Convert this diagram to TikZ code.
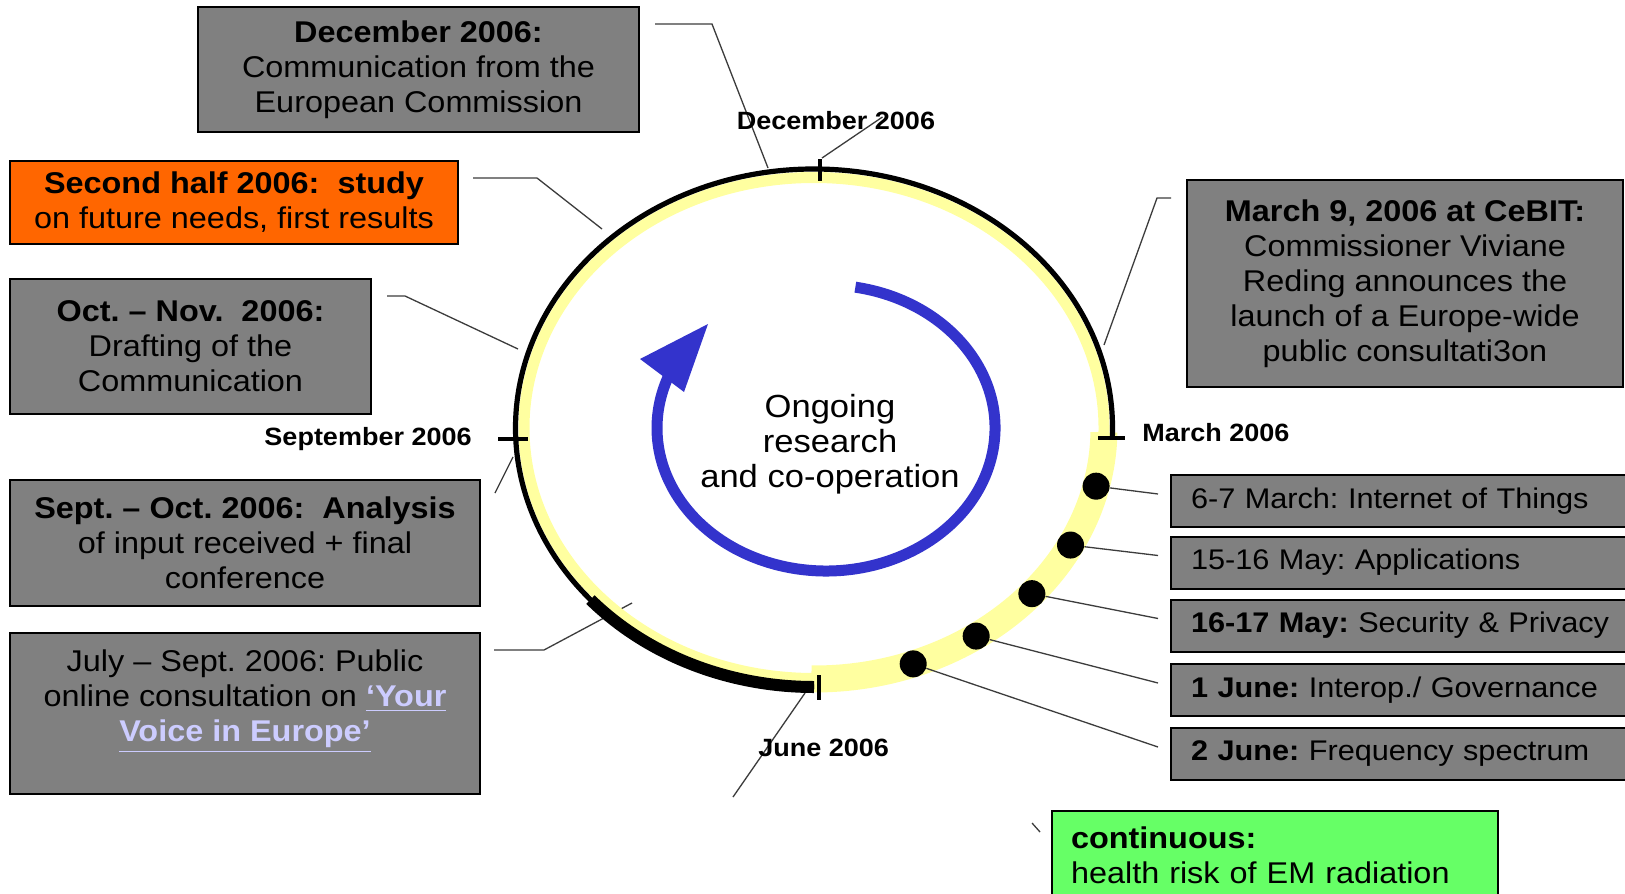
\documentclass[tikz,border=0pt]{standalone}
\usepackage{fontspec}
\setmainfont{Liberation Sans}[FakeStretch=1.08]
\usetikzlibrary{positioning}
\definecolor{boxgray}{RGB}{128,128,128}
\definecolor{sunorange}{RGB}{255,102,0}
\definecolor{lightgreen}{RGB}{102,255,102}
\definecolor{ringyellow}{RGB}{255,255,160}
\definecolor{cycleblue}{RGB}{51,51,204}
\definecolor{linklilac}{RGB}{204,204,255}
\definecolor{leadergray}{RGB}{60,60,60}
\frenchspacing

\begin{document}
\begin{tikzpicture}[x=0.5pt, y=-0.5pt, box/.style={rectangle, draw=black, line width=1pt, fill=boxgray, align=center, inner sep=0pt, font=\fontsize{15}{17.5}\selectfont}, event/.style={rectangle, draw=black, line width=1pt, fill=boxgray, anchor=west, minimum height=26pt, text width=245pt, inner xsep=10pt, inner ysep=0pt, align=left, font=\fontsize{14.2}{17}\selectfont}, month/.style={font=\fontsize{12.5}{15}\selectfont\bfseries, inner sep=0pt}, leader/.style={draw=leadergray, line width=0.65pt}, dot/.style={circle, fill=black, minimum size=13.5pt, inner sep=0pt}, tick/.style={line width=2pt}]
\useasboundingbox (0,0) rectangle (1625,893);
\clip (0,0) rectangle (1625,893);
\fill [white] (0,0) rectangle (1625,893);
\node (DEC) [box, minimum width=220.5pt, minimum height=62.5pt] at (418.5,69.5) {\textbf{December 2006:}\\Communication from the\\European Commission};
\node (HALF) [box, fill=sunorange, minimum width=224pt, minimum height=41.5pt] at (234,202.5) {\textbf{Second half 2006:\ \ study}\\on future needs, first results};
\node (DRAFT) [box, minimum width=180.5pt, minimum height=67.5pt] at (190.5,346.5) {\textbf{Oct.~--~Nov.\ \ 2006:}\\Drafting of the\\Communication};
\node (ANALYSIS) [box, minimum width=235pt, minimum height=63pt] at (245,543) {\textbf{Sept.~--~Oct. 2006:\ \ Analysis}\\of input received + final\\conference};
\node (ONLINE) [box, minimum width=235pt, minimum height=80.5pt] at (245,713.5) {July -- Sept. 2006: Public\\online consultation on \textcolor{linklilac}{\textbf{\underline{`Your}}}\\\textcolor{linklilac}{\textbf{\underline{Voice in Europe'}}}\\\mbox{}};
\node (CEBIT) [box, minimum width=218pt, minimum height=103.5pt] at (1405,283.5) {\textbf{March 9, 2006 at CeBIT:}\\Commissioner Viviane\\Reding announces the\\launch of a Europe-wide\\public consultati3on};
\node (IOT) [event] at (1170,501) {6-7 March: Internet of Things};
\node (APPS) [event] at (1170,562.5) {15-16 May: Applications};
\node (SEC) [event] at (1170,625.5) {\textbf{16-17 May:} Security \& Privacy};
\node (GOV) [event] at (1170,690) {\textbf{1 June:} Interop./ Governance};
\node (FREQ) [event] at (1170,754) {\textbf{2 June:} Frequency spectrum};
\node (EM) [box, fill=lightgreen, anchor=north west, minimum height=44pt, text width=204pt, inner xsep=9.5pt, align=left] at (1051,810) {\textbf{continuous:}\\health risk of EM radiation};
\coordinate (C) at (814,428);
\coordinate (decend) at (768,168);
\coordinate (halfend) at (602,229);
\coordinate (draftend) at (518,349);
\coordinate (analysisend) at (513,457);
\coordinate (onlineend) at (632,603);
\coordinate (cebitend) at (1104,345);
\coordinate (junefree) at (733,797);
\coordinate (juneend) at (805,693);
\coordinate (dectick) at (822,158);
\draw [leader] ([shift={(15,18)}]DEC.north east) -- ++(57,0) -- (decend);
\draw [leader] ([shift={(14,18)}]HALF.north east) -- ++(64,0) -- (halfend);
\draw [leader] ([shift={(15,18)}]DRAFT.north east) -- ++(18,0) -- (draftend);
\draw [leader] ([shift={(14,14)}]ANALYSIS.north east) -- (analysisend);
\draw [leader] ([shift={(13,18)}]ONLINE.north east) -- ++(50,0) -- (onlineend);
\draw [leader] ([shift={(-15,19)}]CEBIT.north west) -- ++(-14,0) -- (cebitend);
\draw [leader] (junefree) -- (juneend);
\draw [leader] ([shift={(-19,13)}]EM.north west) -- ++(8,9);
\draw [ringyellow, line width=5.5pt] (C) ellipse [x radius=290, y radius=250.5];
\draw [ringyellow, line width=13.5pt] (C) ++(1:290 and 251) arc [start angle=1, end angle=90.5, x radius=290, y radius=251];
\draw [line width=2.6pt] (C) ++(2:298.5 and 259) arc [start angle=2, end angle=-270, x radius=298.5, y radius=259];
\draw [line width=6pt] (C) ++(-221.5:298.5 and 259) arc [start angle=-221.5, end angle=-270, x radius=298.5, y radius=259];
\draw [tick] (820,159) -- (820,181);
\draw [tick] (498,439) -- (528,439);
\draw [tick] (1098,438) -- (1125,438);
\draw [tick] (819,675) -- (819,700);
\foreach \a [count=\i] in {13.4,27.8,41.3,56,70}
  \node (D\i) [dot] at ([shift={(\a:290 and 251)}]C) {};
\draw [leader] (D1) -- ([shift={(-12,-7)}]IOT.west);
\draw [leader] (D2) -- ([shift={(-12,-7)}]APPS.west);
\draw [leader] (D3) -- ([shift={(-12,-7)}]SEC.west);
\draw [leader] (D4) -- ([shift={(-12,-7)}]GOV.west);
\draw [leader] (D5) -- ([shift={(-12,-7)}]FREQ.west);
\coordinate (B) at (826,428);
\draw [cycleblue, line width=5.5pt] (B) ++(-80:169 and 143) arc [start angle=-80, end angle=202, x radius=169, y radius=143];
\fill [cycleblue] (708,324) -- (640,359) -- (684,392) -- cycle;
\node (LDEC) [month] at (836,121) {December 2006};
\draw [leader] (dectick) -- ([shift={(-53,-4)}]LDEC.east);
\node (LSEP) [month, anchor=east] at (472,439) {September 2006};
\node (LMAR) [month, anchor=west] at (1142,433) {March 2006};
\node (LJUN) [month, anchor=west] at (758,748) {June 2006};
\node (CYCLE) [align=center, font=\fontsize{16}{17.4}\selectfont] at (830,444) {Ongoing\\research\\and co-operation};
\end{tikzpicture}
\end{document}
